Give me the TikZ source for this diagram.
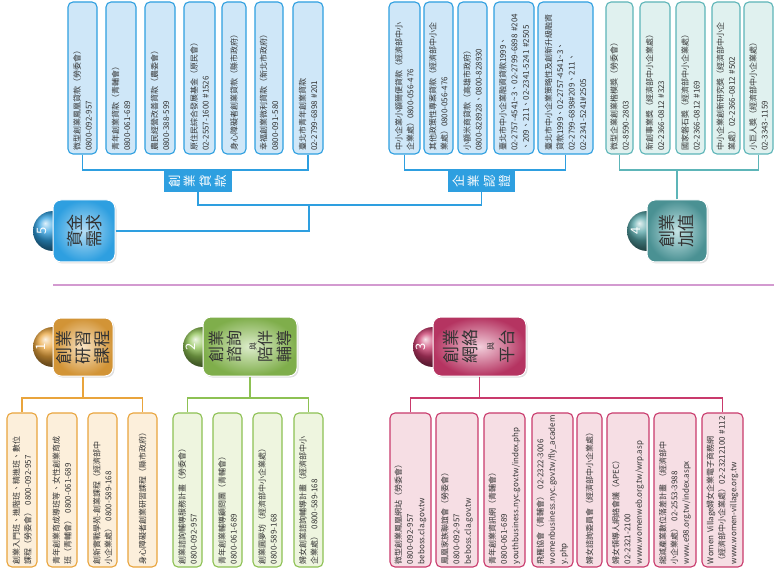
\documentclass[tikz,border=0pt]{standalone}
\usepackage{fontspec}
\setmainfont{Noto Sans CJK TC}
\usetikzlibrary{shadows}
\definecolor{bluedk}{HTML}{2E9FE0}
\definecolor{bluelt}{HTML}{CFE7F8}
\definecolor{tealdk}{HTML}{5DB5B8}
\definecolor{teallt}{HTML}{E0F1EF}
\definecolor{orgdk}{HTML}{E9A43C}
\definecolor{orglt}{HTML}{FCEFDB}
\definecolor{grndk}{HTML}{8DC153}
\definecolor{grnlt}{HTML}{EEF5DF}
\definecolor{pnkdk}{HTML}{C93A6C}
\definecolor{pnklt}{HTML}{F6DEE4}
\definecolor{divider}{HTML}{D39AD0}
\definecolor{txt}{HTML}{333333}
\newcommand{\leaffont}{\fontsize{8}{11.5}\selectfont}
\newcommand{\bigfont}{\fontsize{17}{19}\selectfont}
\newcommand{\yu}{{\fontsize{8}{10}\selectfont 與}}
\tikzset{
  leafbase/.style={rotate=90, draw, rounded corners=5pt, line width=1.1pt,
    inner xsep=3pt, inner ysep=1pt, align=left, font=\leaffont, text=txt},
  topleaf/.style={leafbase, text width=146pt},
  botleaf/.style={leafbase, text width=148pt},
  bleaf/.style={topleaf, draw=bluedk, fill=bluelt},
  tleaf/.style={topleaf, draw=tealdk, fill=teallt},
  oleaf/.style={botleaf, draw=orgdk, fill=orglt},
  gleaf/.style={botleaf, draw=grndk, fill=grnlt},
  pleaf/.style={botleaf, draw=pnkdk, fill=pnklt},
  bconn/.style={draw=bluedk, line width=1.1pt},
  tconn/.style={draw=tealdk, line width=1.1pt},
  oconn/.style={draw=orgdk, line width=1.1pt},
  gconn/.style={draw=grndk, line width=1.1pt},
  pconn/.style={draw=pnkdk, line width=1.1pt},
  mainbox/.style={rectangle, rounded corners=8pt, draw=white, line width=1pt,
    shading=radial, drop shadow={opacity=0.25, shadow xshift=1.5pt, shadow yshift=-1.5pt}},
  maintext/.style={rotate=90, align=center, font=\bigfont, text=txt},
  numcirc/.style={circle, minimum size=40pt, inner sep=0pt},
  numtext/.style={rotate=90, text=white, font=\fontsize{13}{13}\selectfont},
  tag/.style={rotate=90, fill=bluedk, text=white, align=center, inner sep=0pt,
    font=\fontsize{12.5}{15.5}\selectfont},
}
\begin{document}
\begin{tikzpicture}[x=1pt,y=-1pt]
\useasboundingbox (0,0) rectangle (774,572);
\fill[white] (0,0) rectangle (774,572);

% ---------- divider ----------
\draw[divider, line width=1.6pt] (53,285) -- (774,285);

% ---------- top-left leaves (loans) ----------
\node[bleaf, minimum height=29pt] (b1) at (82.5,78) {微型創業鳳凰貸款（勞委會）\\0800-092-957};
\node[bleaf, minimum height=30pt] (b2) at (121,78) {青年創業貸款（青輔會）\\0800-061-689};
\node[bleaf, minimum height=30pt] (b3) at (160,78) {農民經營改善貸款（農委會）\\0800-388-599};
\node[bleaf, minimum height=31pt] (b4) at (199.5,78) {原住民綜合發展基金（原民會）\\02-2557-1600 \#1526};
\node[bleaf, minimum height=24pt] (b5) at (234,78) {身心障礙者創業貸款（縣市政府）};
\node[bleaf, minimum height=28pt] (b6) at (269,78) {幸福創業微利貸款（新北市政府）\\0800-091-580};
\node[bleaf, minimum height=30pt] (b7) at (308,78) {臺北市青年創業貸款\\02-2799-6898 \#201};

% ---------- top-middle leaves ----------
\node[bleaf, minimum height=31pt] (c1) at (404.5,78) {中小企業小額簡便貸款（經濟部中小\\企業處）0800-056-476};
\node[bleaf, minimum height=29pt] (c2) at (438.5,78) {其他政策性專案貸款（經濟部中小企\\業處）0800-056-476};
\node[bleaf, minimum height=29pt] (c3) at (472.5,78) {小額米商貸款（高雄市政府）\\0800-828928、0800-828930};
\node[bleaf, minimum height=40pt] (c4) at (514,78) {臺北市中小企業融資貸款1999、\\02-2757-4541\textasciitilde3、02-2799-6898~\#204\\、209、211、02-2341-5241~\#2505};
\node[bleaf, minimum height=55pt] (c5) at (565.5,78) {臺北市中小企業策略性及創新升級融資\\貸款1999、02-2757-4541\textasciitilde3、\\02-2799-6898\#209、211、\\02-2341-5241\#2505};

% ---------- top-right leaves ----------
\node[tleaf, minimum height=27pt] (t1) at (619.5,78) {微型企業創業楷模獎（勞委會）\\02-8590-2803};
\node[tleaf, minimum height=30pt] (t2) at (655,78) {新創事業獎（經濟部中小企業處）\\02-2366-0812 \#323};
\node[tleaf, minimum height=29pt] (t3) at (690.5,78) {國家磐石獎（經濟部中小企業處）\\02-2366-0812 \#169};
\node[tleaf, minimum height=28pt] (t4) at (726,78) {中小企業創新研究獎（經濟部中小企\\業處）02-2366-0812 \#502};
\node[tleaf, minimum height=29pt] (t5) at (758.5,78) {小巨人獎（經濟部中小企業處）\\02-3343-1159};

% ---------- tags ----------
\node[tag, minimum width=21pt, minimum height=68pt] (L1) at (198,181.5) {創\\業\\貸\\款};
\node[tag, minimum width=21pt, minimum height=67pt] (L2) at (481.5,181.5) {企\\業\\認\\證};

% ---------- main boxes top ----------
\node[numcirc, ball color=bluedk] (c5c) at (53,231) {};
\node[numcirc, ball color=tealdk!90!black] (c4c) at (647,231) {};
\node[numtext] (n5) at (42,231) {5};
\node[numtext] (n4) at (636,231) {4};
\node[mainbox, minimum width=62pt, minimum height=62pt, inner color=bluedk!35, outer color=bluedk] (m5) at (84,231) {};
\node[maintext] (m5t) at (m5) {資金\\需求};
\node[mainbox, minimum width=60pt, minimum height=62pt, inner color=tealdk!35, outer color=tealdk!80!black] (m4) at (677,231) {};
\node[maintext] (m4t) at (m4) {創業\\加值};

% ---------- top connectors ----------
\coordinate (jt) at (309,205);
\draw[bconn] (b1.west) -- (b1.west |- 0,170) -- (b7.west |- 0,170) -- (b7.west);
\draw[bconn] (c1.west) -- (c1.west |- 0,170) -- (c5.west |- 0,170) -- (c5.west);
\draw[bconn] (L1) -- (L1 |- jt) -| (L2);
\draw[bconn] (m5.east) -| (jt);
\draw[tconn] (t1.west) -- (t1.west |- 0,170) -- (t5.west |- 0,170) -- (t5.west);
\draw[tconn] (m4.north) -- (m4.north |- 0,170);

% ---------- main boxes bottom ----------
\node[numcirc, ball color=orgdk] (c1c) at (53,347) {};
\node[numcirc, ball color=grndk] (c2c) at (203,347) {};
\node[numcirc, ball color=pnkdk] (c3c) at (433,347) {};
\node[numtext] (n1) at (41,347) {1};
\node[numtext] (n2) at (191,347) {2};
\node[numtext] (n3) at (421,347) {3};
\node[mainbox, minimum width=60pt, minimum height=58pt, inner color=orgdk!30, outer color=orgdk!90!black] (m1) at (83,347) {};
\node[maintext] (m1t) at (m1) {創業\\研習\\課程};
\node[mainbox, minimum width=94pt, minimum height=59pt, inner color=grndk!30, outer color=grndk!90!black] (m2) at (250,346.5) {};
\node[maintext, font=\fontsize{16}{18.5}\selectfont] (m2t) at (m2) {創業\\諮詢\\[-3pt]\yu\\[-3pt]陪伴\\輔導};
\node[mainbox, minimum width=93pt, minimum height=59pt, inner color=pnkdk!25, outer color=pnkdk!90!black] (m3) at (479.5,346.5) {};
\node[maintext] (m3t) at (m3) {創業\\網絡\\[-2pt]\yu\\[1pt]平台};

% ---------- bottom leaves ----------
\node[oleaf, minimum height=30pt] (o1) at (22,490) {創業入門班、進階班、精進班、數位\\課程（勞委會） 0800-092-957};
\node[oleaf, minimum height=30pt] (o2) at (62,490) {青年創業育成導班等、女性創業育成\\班（青輔會） 0800-061-689};
\node[oleaf, minimum height=29pt] (o3) at (102.5,490) {創新實戰學苑-創業課程（經濟部中\\小企業處） 0800-589-168};
\node[oleaf, minimum height=29pt] (o4) at (142.5,490) {身心障礙者創業研習課程（縣市政府）};

\node[gleaf, minimum height=29pt] (g1) at (187.5,490) {創業諮詢輔導服務計畫（勞委會）\\0800-092-957};
\node[gleaf, minimum height=29pt] (g2) at (227.5,490) {青年創業輔導顧問團（青輔會）\\0800-061-689};
\node[gleaf, minimum height=29pt] (g3) at (267.5,490) {創業圓夢坊（經濟部中小企業處）\\0800-589-168};
\node[gleaf, minimum height=29pt] (g4) at (308.5,490) {婦女創業諮詢輔導計畫（經濟部中小\\企業處） 0800-589-168};

\node[pleaf, minimum height=41pt] (p1) at (410.5,490) {微型創業鳳凰網站（勞委會）\\0800-092-957\\beboss.cla.gov.tw};
\node[pleaf, minimum height=42pt] (p2) at (457,490) {鳳凰家族聯誼會（勞委會）\\0800-092-957\\beboss.cla.gov.tw};
\node[pleaf, minimum height=41pt] (p3) at (504.5,490) {青年創業資訊網（青輔會）\\0800-061-689\\youthbusiness.nyc.gov.tw/index.php};
\node[pleaf, minimum height=41pt] (p4) at (552.5,490) {飛雁協會（青輔會） 02-2322-3006\\womenbusiness.nyc.gov.tw/fly\_academ\\y.php};
\node[pleaf, minimum height=25pt] (p5) at (589.5,490) {婦女諮詢委員會（經濟部中小企業處）};
\node[pleaf, minimum height=42pt] (p6) at (628,490) {婦女領導人網絡會議（APEC）\\02-2321-2100\\www.womenweb.org.tw/wrp.asp};
\node[pleaf, minimum height=42pt] (p7) at (675,490) {縮減產業數位落差計畫 （經濟部中\\小企業處） 02-2553-3988\\www.e98.org.tw/index.aspx};
\node[pleaf, minimum height=41pt] (p8) at (722.5,490) {Women~Village婦女企業電子商務網\\（經濟部中小企業處）02-23212100~\#112\\www.women-village.org.tw};

% ---------- bottom connectors ----------
\draw[oconn] (m1.south) -- (m1.south |- 0,398);
\draw[oconn] (o1.east) -- (o1.east |- 0,398) -- (o4.east |- 0,398) -- (o4.east);
\draw[gconn] (m2.south) -- (m2.south |- 0,398);
\draw[gconn] (g1.east) -- (g1.east |- 0,398) -- (g4.east |- 0,398) -- (g4.east);
\draw[pconn] (m3.south) -- (m3.south |- 0,398);
\draw[pconn] (p1.east) -- (p1.east |- 0,398) -- (p8.east |- 0,398) -- (p8.east);
\end{tikzpicture}
\end{document}
